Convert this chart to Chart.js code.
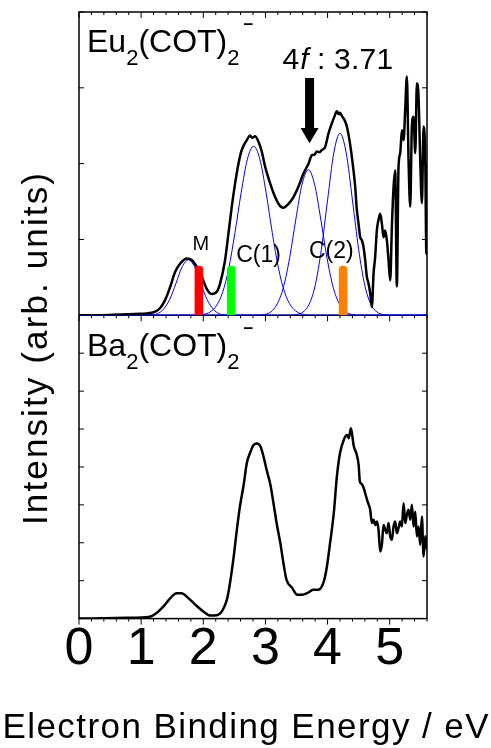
<!DOCTYPE html>
<html>
<head>
<meta charset="utf-8">
<script src="https://cdn.jsdelivr.net/npm/chart.js@4.4.1/dist/chart.umd.min.js"></script>
<style>
  html, body { margin: 0; padding: 0; background: #fff; }
</style>
</head>
<body>
<canvas id="pesChart" width="491" height="748"></canvas>
<script>
// Eu2(COT)2- photoelectron spectrum, [binding energy eV, intensity]
var euSpectrum = [
  [0, 0], [0.5, 0.005], [0.98, 0.02], [1.2, 0.04], [1.3, 0.09], [1.385, 0.2], [1.465, 0.37], [1.546, 0.57],
  [1.626, 0.68], [1.734, 0.75], [1.814, 0.73], [1.895, 0.64], [1.975, 0.51], [2.056, 0.35], [2.136, 0.28],
  [2.217, 0.31], [2.271, 0.42], [2.351, 0.73], [2.405, 1.08], [2.458, 1.43], [2.512, 1.74], [2.566, 2.0],
  [2.619, 2.18], [2.7, 2.31], [2.754, 2.37], [2.79, 2.34], [2.834, 2.36], [2.888, 2.29], [2.941, 2.16],
  [2.995, 1.96], [3.076, 1.74], [3.156, 1.56], [3.237, 1.44], [3.29, 1.42], [3.371, 1.47], [3.451, 1.56],
  [3.532, 1.7], [3.612, 1.87], [3.693, 2.0], [3.746, 2.11], [3.79, 2.12], [3.827, 2.16], [3.87, 2.15],
  [3.907, 2.18], [3.961, 2.22], [4.015, 2.4], [4.068, 2.53], [4.11, 2.62], [4.15, 2.69], [4.18, 2.65],
  [4.2, 2.67], [4.23, 2.63], [4.27, 2.58], [4.31, 2.49], [4.36, 2.27], [4.41, 1.96], [4.444, 1.7],
  [4.47, 1.4], [4.498, 1.21], [4.525, 1.03], [4.552, 0.99], [4.578, 0.9], [4.605, 0.73], [4.632, 0.51],
  [4.659, 0.42], [4.686, 0.29], [4.713, 0.11], [4.74, 0.55], [4.766, 0.77], [4.793, 1.12], [4.82, 1.26],
  [4.847, 1.34], [4.874, 1.21], [4.901, 1.03], [4.927, 1.12], [4.954, 0.99], [4.981, 0.73], [5.008, 0.46],
  [5.035, 1.17], [5.062, 1.69], [5.088, 1.91], [5.115, 0.38], [5.142, 1.96], [5.169, 2.14], [5.196, 2.44],
  [5.223, 2.31], [5.249, 2.71], [5.276, 3.15], [5.303, 2.05], [5.33, 1.43], [5.357, 2.49], [5.384, 2.62],
  [5.411, 2.14], [5.437, 3.06], [5.464, 2.88], [5.491, 2.05], [5.518, 1.48], [5.545, 2.49], [5.572, 2.05],
  [5.59, 0.81], [5.6, 2.0]
];

// Ba2(COT)2- photoelectron spectrum
var baSpectrum = [
  [0, 0], [0.77, 0.02], [1.14, 0.05], [1.25, 0.15], [1.36, 0.32], [1.47, 0.54], [1.57, 0.67], [1.65, 0.67],
  [1.76, 0.54], [1.87, 0.37], [2.0, 0.19], [2.11, 0.08], [2.22, 0.09], [2.3, 0.19], [2.38, 0.5], [2.43, 0.94],
  [2.49, 1.64], [2.54, 2.34], [2.59, 2.96], [2.65, 3.53], [2.7, 4.1], [2.75, 4.36], [2.81, 4.58], [2.86, 4.62],
  [2.92, 4.54], [2.97, 4.27], [3.02, 3.92], [3.08, 3.53], [3.13, 3.04], [3.18, 2.52], [3.24, 1.99], [3.29, 1.46],
  [3.34, 1.02], [3.43, 0.81], [3.51, 0.63], [3.59, 0.63], [3.67, 0.67], [3.77, 0.76], [3.85, 0.76], [3.94, 0.98],
  [3.99, 1.38], [4.04, 1.99], [4.1, 2.78], [4.15, 3.75], [4.2, 4.36], [4.26, 4.71], [4.31, 4.84], [4.34, 4.76],
  [4.375, 5.02], [4.4, 4.8], [4.418, 4.58], [4.47, 4.32], [4.5, 4.05], [4.52, 3.61], [4.55, 3.55], [4.58, 3.45],
  [4.605, 3.31], [4.643, 3.09], [4.686, 2.87], [4.713, 2.52], [4.74, 2.61], [4.767, 2.47], [4.793, 2.56],
  [4.82, 2.34], [4.847, 1.77], [4.874, 1.95], [4.901, 2.47], [4.928, 2.34], [4.954, 2.25], [4.981, 2.52],
  [5.008, 2.17], [5.035, 2.08], [5.062, 2.43], [5.089, 2.56], [5.115, 2.25], [5.142, 2.39], [5.169, 2.56],
  [5.196, 2.43], [5.223, 3.04], [5.25, 2.52], [5.276, 2.74], [5.303, 2.87], [5.33, 2.61], [5.357, 3.0],
  [5.384, 2.43], [5.411, 2.82], [5.437, 2.17], [5.464, 2.43], [5.491, 1.95], [5.518, 2.69], [5.545, 1.64],
  [5.572, 2.17], [5.6, 1.82]
];

// fitted components (blue)
var fitM = [
  [0, 0], [1.06, 0], [1.16, 0.005], [1.26, 0.02], [1.36, 0.08], [1.46, 0.21], [1.56, 0.42], [1.66, 0.64],
  [1.76, 0.73], [1.86, 0.64], [1.96, 0.42], [2.06, 0.21], [2.16, 0.08], [2.26, 0.02], [2.36, 0.005], [2.46, 0], [5.6, 0]
];
var fitC1 = [
  [0, 0], [1.91, 0], [2.01, 0.013], [2.11, 0.044], [2.21, 0.125], [2.31, 0.3], [2.41, 0.62], [2.51, 1.09],
  [2.61, 1.62], [2.71, 2.06], [2.81, 2.23], [2.91, 2.06], [3.01, 1.62], [3.11, 1.09], [3.21, 0.62], [3.31, 0.3],
  [3.41, 0.125], [3.51, 0.044], [3.61, 0.013], [3.71, 0], [5.6, 0]
];
var fit4f = [
  [0, 0], [2.89, 0], [2.99, 0.012], [3.09, 0.046], [3.19, 0.15], [3.29, 0.37], [3.39, 0.76], [3.49, 1.27],
  [3.59, 1.73], [3.69, 1.92], [3.79, 1.73], [3.89, 1.27], [3.99, 0.76], [4.09, 0.37], [4.19, 0.15], [4.29, 0.046],
  [4.39, 0.012], [4.49, 0], [5.6, 0]
];
var fitC2 = [
  [0, 0], [3.4, 0], [3.5, 0.01], [3.6, 0.04], [3.7, 0.14], [3.8, 0.39], [3.9, 0.87], [4.0, 1.52], [4.1, 2.14],
  [4.2, 2.4], [4.3, 2.14], [4.4, 1.52], [4.5, 0.87], [4.6, 0.39], [4.7, 0.14], [4.8, 0.04], [4.9, 0.01], [5.0, 0], [5.6, 0]
];

// coloured markers for M, C(1), C(2)
var markerEnergy = [1.93, 2.45, 4.25];
var markerHeight = [0.65, 0.65, 0.65];
var markerColors = ['#ff0000', '#00ff00', '#ff8000'];

var xTicks = [0, 1, 2, 3, 4, 5];
var topTicks = [0, 1, 2, 3, 4];
var bottomTicks = [0, 1, 2, 3, 4, 5, 6, 7, 8];

var FONT = '"Liberation Sans", Arial, sans-serif';

function toXY(pairs) {
    return pairs.map(function (p) { return { x: p[0], y: p[1] }; });
}

function fitLine(pairs) {
    return {
        type: 'line', data: toXY(pairs), yAxisID: 'yTop', order: 3,
        borderColor: '#0000ff', borderWidth: 1, pointRadius: 0, cubicInterpolationMode: 'monotone'
    };
}

// text stretched to a fixed overall width (the axis titles are tracked out a bit)
function spacedText(ctx, str, cx, base, width) {
    var ws = str.split('').map(function (c) { return ctx.measureText(c).width; });
    var total = ws.reduce(function (s, w) { return s + w; }, 0);
    var gap = (width - total) / (str.length - 1);
    var x = cx - width / 2;
    ctx.textAlign = 'left';
    for (var i = 0; i < str.length; i++) {
        ctx.fillText(str[i], x, base);
        x += ws[i] + gap;
    }
}

function drawFormula(ctx, parts, x, base) {
    ctx.textAlign = 'left';
    parts.forEach(function (p) {
        var size = p[1] === 'sub' ? 22 : (p[1] === 'sup' ? 17 : 32);
        var dy = p[1] === 'sub' ? 13 : (p[1] === 'sup' ? -22 : 0);
        if (p[1] === 'sup') x += 4;
        ctx.font = (p[1] === 'sup' ? 'bold ' : '') + size + 'px ' + FONT;
        ctx.fillText(p[0], x, base + dy);
        x += ctx.measureText(p[0]).width;
    });
}

function seg(ctx, x1, y1, x2, y2) {
    ctx.beginPath(); ctx.moveTo(x1, y1); ctx.lineTo(x2, y2); ctx.stroke();
}

// frame, divider and inward ticks
var framePlugin = {
    id: 'framePlugin',
    beforeDatasetsDraw: function (chart) {
        var ctx = chart.ctx, a = chart.chartArea;
        var xs = chart.scales.x, yT = chart.scales.yTop, yB = chart.scales.yBot;
        var mid = yT.bottom;
        ctx.save();
        ctx.strokeStyle = '#000';
        ctx.lineWidth = 1.5;
        ctx.strokeRect(a.left, a.top, a.right - a.left, a.bottom - a.top);
        seg(ctx, a.left, mid, a.right, mid);
        ctx.lineWidth = 1;
        for (var i = 0; i <= 28; i++) {
            var px = xs.getPixelForValue(i * 0.2);
            var len = i % 5 === 0 ? 6 : 3;
            seg(ctx, px, a.top, px, a.top + len);
            seg(ctx, px, mid, px, mid + len);
            seg(ctx, px, a.bottom, px, a.bottom + len);
        }
        topTicks.forEach(function (v) {
            var py = yT.getPixelForValue(v);
            seg(ctx, a.left, py, a.left + 5, py);
            seg(ctx, a.right, py, a.right - 5, py);
        });
        bottomTicks.forEach(function (v) {
            var py = yB.getPixelForValue(v);
            seg(ctx, a.left, py, a.left + 5, py);
            seg(ctx, a.right, py, a.right - 5, py);
        });
        ctx.restore();
    },
    afterDatasetsDraw: function (chart) {
        var ctx = chart.ctx, a = chart.chartArea;
        var xs = chart.scales.x, yT = chart.scales.yTop, yB = chart.scales.yBot;
        ctx.save();
        ctx.fillStyle = '#000';
        ctx.textBaseline = 'alphabetic';

        drawFormula(ctx, [['Eu', 'n'], ['2', 'sub'], ['(COT)', 'n'], ['2', 'sub'], ['\u2212', 'sup']], a.left + 8, yT.top + 40);
        drawFormula(ctx, [['Ba', 'n'], ['2', 'sub'], ['(COT)', 'n'], ['2', 'sub'], ['\u2212', 'sup']], a.left + 8, yB.top + 41);

        // 4f arrow
        var ax = xs.getPixelForValue(3.71);
        var yA = yT.getPixelForValue(3.13), yH = yT.getPixelForValue(2.47), yTip = yT.getPixelForValue(2.27);
        ctx.fillRect(ax - 4.5, yA, 9, yH - yA + 1);
        ctx.beginPath();
        ctx.moveTo(ax - 9, yH); ctx.lineTo(ax + 9, yH); ctx.lineTo(ax, yTip); ctx.closePath();
        ctx.fill();

        var tx = ax - 27, ty = yT.getPixelForValue(3.25);
        ctx.textAlign = 'left';
        ctx.font = '30px ' + FONT;
        ctx.fillText('4', tx, ty);
        tx += ctx.measureText('4').width + 1;
        ctx.font = 'italic 30px ' + FONT;
        ctx.fillText('f', tx, ty);
        tx += ctx.measureText('f').width;
        ctx.font = '30px ' + FONT;
        ctx.fillText(' :', tx, ty);
        tx += ctx.measureText(' :').width;
        spacedText(ctx, ' 3.71', tx + 34, ty, 68);

        // component labels
        ctx.textAlign = 'center';
        ctx.font = '20px ' + FONT;
        ctx.fillText('M', xs.getPixelForValue(1.96), yT.getPixelForValue(0.86));
        ctx.font = '23px ' + FONT;
        ctx.fillText('C(1)', xs.getPixelForValue(2.89), yT.getPixelForValue(0.7));
        ctx.fillText('C(2)', xs.getPixelForValue(4.06), yT.getPixelForValue(0.75));

        // axis titles
        ctx.font = '35px ' + FONT;
        spacedText(ctx, 'Electron Binding Energy / eV', 245.5, 738, 486);
        ctx.translate(47, 349);
        ctx.rotate(-Math.PI / 2);
        spacedText(ctx, 'Intensity (arb. units)', 0, 0, 352);
        ctx.restore();
    }
};

var ctx = document.getElementById('pesChart').getContext('2d');
var pesChart = new Chart(ctx, {
    type: 'line',
    data: {
        datasets: [{
            type: 'bar',
            data: markerEnergy.map(function (e, i) { return { x: e, y: markerHeight[i] }; }),
            yAxisID: 'yTop',
            backgroundColor: markerColors,
            barThickness: 8,
            borderRadius: { topLeft: 4, topRight: 4, bottomLeft: 0, bottomRight: 0 },
            borderSkipped: false,
            order: 0
        }, {
            data: toXY(euSpectrum),
            yAxisID: 'yTop',
            borderColor: '#000',
            borderWidth: 2.5,
            pointRadius: 0,
            cubicInterpolationMode: 'monotone',
            order: 1
        }, {
            data: toXY(baSpectrum),
            yAxisID: 'yBot',
            borderColor: '#000',
            borderWidth: 2.5,
            pointRadius: 0,
            cubicInterpolationMode: 'monotone',
            order: 1
        },
        fitLine(fitM), fitLine(fitC1), fitLine(fit4f), fitLine(fitC2)]
    },
    options: {
        responsive: false,
        animation: false,
        events: [],
        layout: { padding: { left: 79, right: 64, top: 12, bottom: 67 } },
        plugins: { legend: { display: false }, tooltip: { enabled: false } },
        scales: {
            x: {
                type: 'linear', min: 0, max: 5.6, offset: false,
                grid: { display: false, drawTicks: false },
                border: { display: false },
                ticks: { color: '#000', padding: 0, maxRotation: 0, autoSkip: false, font: { family: FONT, size: 52 } },
                afterBuildTicks: function (scale) {
                    scale.ticks = xTicks.map(function (v) { return { value: v }; });
                }
            },
            yBot: {
                type: 'linear', position: 'left', stack: 'panels', stackWeight: 1, min: 0, max: 8,
                grid: { display: false, drawTicks: false }, border: { display: false }, ticks: { display: false }
            },
            yTop: {
                type: 'linear', position: 'left', stack: 'panels', stackWeight: 1, min: 0, max: 4,
                grid: { display: false, drawTicks: false }, border: { display: false }, ticks: { display: false }
            }
        }
    },
    plugins: [framePlugin]
});
</script>
</body>
</html>
